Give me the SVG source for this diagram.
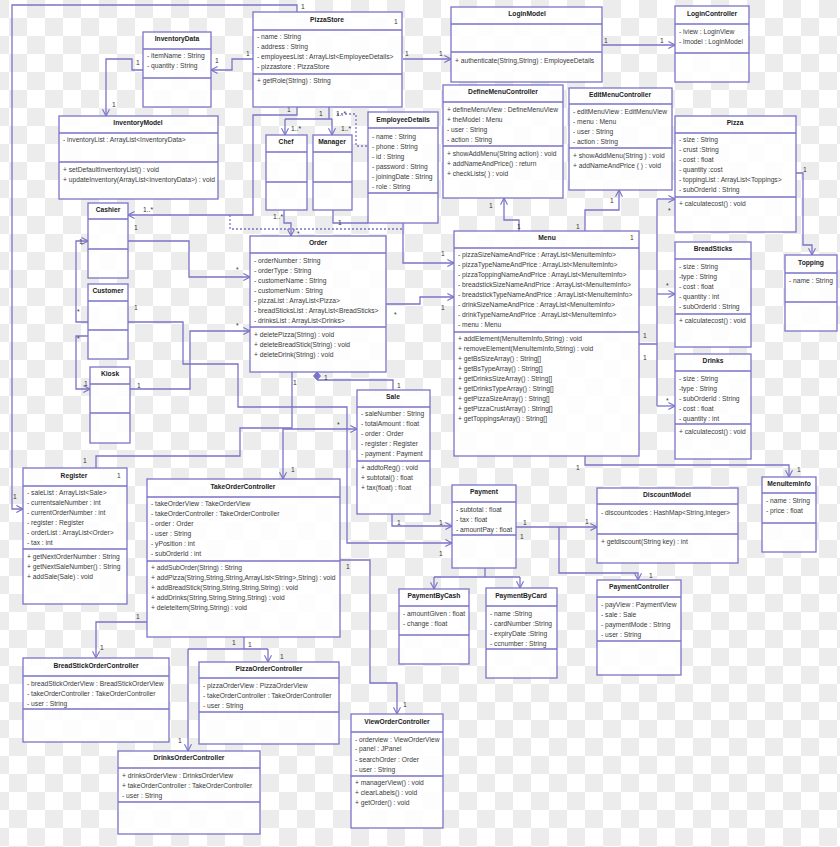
<svg xmlns="http://www.w3.org/2000/svg" width="840" height="847" viewBox="0 0 840 847">
<defs>
<pattern id="chk" x="9" y="0" width="36" height="36" patternUnits="userSpaceOnUse">
<rect width="36" height="36" fill="#ffffff"/>
<rect x="18" y="0" width="18" height="18" fill="#ececec"/>
<rect x="0" y="18" width="18" height="18" fill="#ececec"/>
</pattern>
<marker id="a" viewBox="0 0 10 10" refX="9.5" refY="5" markerWidth="7" markerHeight="8" orient="auto" markerUnits="userSpaceOnUse">
<path d="M0,0 L9.5,5 L0,10" fill="none" stroke="#7b73c7" stroke-width="1.6"/>
</marker>
<marker id="as" viewBox="0 0 10 10" refX="9.5" refY="5" markerWidth="7" markerHeight="8" orient="auto-start-reverse" markerUnits="userSpaceOnUse">
<path d="M0,0 L9.5,5 L0,10" fill="none" stroke="#7b73c7" stroke-width="1.6"/>
</marker>
</defs>
<style>
.box{fill:#fff;fill-opacity:.88;stroke:#7b73c7;stroke-width:1.3}
.sep{stroke:#7b73c7;stroke-width:1.3}
.t{font-family:"Liberation Sans",Arial,sans-serif;font-size:6.7px;fill:#3a3a3a}
.h{font-weight:bold;text-anchor:middle;fill:#222}
.c{fill:none;stroke:#7b73c7;stroke-width:1.3}
.d{stroke-dasharray:2,2}
.l{font-family:"Liberation Sans",Arial,sans-serif;font-size:6.7px;fill:#333}
</style>
<rect width="840" height="847" fill="url(#chk)"/>

<g id="connectors">
<path class="c" d="M297,12 V5 H12 V509 H23" marker-end="url(#a)"/>
<path class="c" d="M253,59 H232 V70 H211" marker-end="url(#a)"/>
<path class="c" d="M143,70 H132 V59 H106 V116" marker-end="url(#a)"/>
<path class="c" d="M403,59 H451" marker-end="url(#a)"/>
<path class="c" d="M602,45 H675" marker-end="url(#a)"/>
<path class="c" d="M297,107 V115 H253 V215 H128" marker-end="url(#a)"/>
<path class="c" d="M329,107 V119 M285,119 H332"/>
<path class="c" d="M285,119 V135" marker-end="url(#a)"/>
<path class="c" d="M332,119 V135" marker-end="url(#a)"/>
<path class="c d" d="M337,114 H356 V146 H368"/>
<path class="c d" d="M230,215 V229 H403"/>
<path class="c" d="M284,210 V223 H291 V236" marker-end="url(#a)"/>
<path class="c" d="M333,210 V223 H368"/>
<path class="c" d="M403,223 V263 H454" marker-end="url(#a)"/>
<path class="c" d="M128,241 H189 V277 H250" marker-end="url(#a)"/>
<path class="c" d="M130,389 H190 V331 H250" marker-end="url(#a)"/>
<path class="c" d="M88,322 H76 V241 H88" marker-end="url(#a)"/>
<path class="c" d="M88,336 H76 V389 H90" marker-end="url(#a)"/>
<path class="c" d="M128,322 H183 V364 H238 V407 H347 V543 H452" marker-end="url(#a)"/>
<path class="c" d="M386,304 H420 V297 H454" marker-end="url(#a)"/>
<path class="c" d="M519,231 V220 H504 V198" marker-end="url(#a)"/>
<path class="c" d="M585,231 V210 H619 V190" marker-end="url(#a)"/>
<path class="c" d="M639,344 H657 M657,199 V406"/>
<path class="c" d="M657,199 H675" marker-end="url(#a)"/>
<path class="c" d="M657,294 H675" marker-end="url(#a)"/>
<path class="c" d="M657,406 H675" marker-end="url(#a)"/>
<path class="c" d="M796,173 H803 V245 H812 V255" marker-end="url(#a)"/>
<path class="c" d="M585,456 V465 H789 V477" marker-end="url(#a)"/>
<path class="c" d="M317,380 H393 V390"/>
<path d="M317,372 L320.5,376 L317,380 L313.5,376 Z" fill="#7b73c7" stroke="#7b73c7" stroke-width="1"/>
<path class="c" d="M292,372 V428 H240 V456 H96 V468"/>
<path class="c" d="M283,479 V429 H357" marker-start="url(#as)" marker-end="url(#a)"/>
<path class="c" d="M392,514 V526 H452" marker-end="url(#a)"/>
<path class="c" d="M516,527 H597" marker-end="url(#a)"/>
<path class="c" d="M559,527 V573 H638 V580" marker-end="url(#a)"/>
<path class="c" d="M485,568 V577 M434,577 H520"/>
<path class="c" d="M434,577 V589" marker-end="url(#a)"/>
<path class="c" d="M520,577 V588" marker-end="url(#a)"/>
<path class="c" d="M340,560 H370 V683 H397 V714" marker-end="url(#a)"/>
<path class="c" d="M147,622 H96 V658" marker-end="url(#a)"/>
<path class="c" d="M244,637 V649 M188,649 H268"/>
<path class="c" d="M268,649 V662" marker-end="url(#a)"/>
<path class="c" d="M188,649 V751" marker-end="url(#a)"/>

<text class="l" x="301" y="9">1</text>
<text class="l" x="13" y="499">1</text>
<text class="l" x="246" y="56">1</text>
<text class="l" x="215" y="63">1</text>
<text class="l" x="136" y="65">1</text>
<text class="l" x="112" y="107">1</text>
<text class="l" x="405" y="56">1</text>
<text class="l" x="439" y="56">1</text>
<text class="l" x="604" y="43">1</text>
<text class="l" x="660" y="43">1</text>
<text class="l" x="287" y="112">1</text>
<text class="l" x="143" y="212">1..*</text>
<text class="l" x="319" y="116">1</text>
<text class="l" x="291" y="131">1..*</text>
<text class="l" x="341" y="131">1..*</text>
<text class="l" x="336" y="116">1..*</text>
<text class="l" x="273" y="219">1..*</text>
<text class="l" x="297" y="236">*</text>
<text class="l" x="338" y="225">1</text>
<text class="l" x="441" y="256">1</text>
<text class="l" x="134" y="230">1</text>
<text class="l" x="236" y="272">*</text>
<text class="l" x="137" y="388">1</text>
<text class="l" x="236" y="328">*</text>
<text class="l" x="77" y="314">*</text>
<text class="l" x="79" y="244">1</text>
<text class="l" x="77" y="341">*</text>
<text class="l" x="84" y="386">1</text>
<text class="l" x="134" y="310">1</text>
<text class="l" x="439" y="556">1</text>
<text class="l" x="394" y="317">*</text>
<text class="l" x="441" y="310">1</text>
<text class="l" x="489" y="208">1</text>
<text class="l" x="517" y="229">1</text>
<text class="l" x="610" y="203">1</text>
<text class="l" x="576" y="229">1</text>
<text class="l" x="668" y="213">*</text>
<text class="l" x="666" y="288">*</text>
<text class="l" x="666" y="403">*</text>
<text class="l" x="643" y="338">1</text>
<text class="l" x="643" y="360">1</text>
<text class="l" x="803" y="172">1</text>
<text class="l" x="576" y="470">1</text>
<text class="l" x="797" y="472">1</text>
<text class="l" x="324" y="380">1</text>
<text class="l" x="397" y="388">1</text>
<text class="l" x="293" y="385">1</text>
<text class="l" x="291" y="472">1</text>
<text class="l" x="83" y="463">1</text>
<text class="l" x="337" y="427">*</text>
<text class="l" x="397" y="525">1</text>
<text class="l" x="439" y="525">1</text>
<text class="l" x="523" y="525">1</text>
<text class="l" x="585" y="524">1</text>
<text class="l" x="520" y="539">1</text>
<text class="l" x="649" y="578">1</text>
<text class="l" x="346" y="569">1</text>
<text class="l" x="403" y="707">1</text>
<text class="l" x="136" y="619">1</text>
<text class="l" x="100" y="650">1</text>
<text class="l" x="232" y="645">1</text>
<text class="l" x="248" y="647">1</text>
<text class="l" x="280" y="659">1</text>
<text class="l" x="178" y="743">1</text>
</g>

<g id="InventoryData">
<rect class="box" x="143" y="32" width="68" height="75"/>
<path class="sep" d="M143,49 H211 M143,78 H211"/>
<text class="t h" x="177" y="41">InventoryData</text>
<text class="t" x="147" y="58">- itemName : String</text>
<text class="t" x="147" y="68">- quantity : String</text>
</g>

<g id="InventoryModel">
<rect class="box" x="59" y="116" width="159" height="83"/>
<path class="sep" d="M59,133 H218 M59,162 H218"/>
<text class="t h" x="138" y="125">InventoryModel</text>
<text class="t" x="63" y="141.5">- inventoryList : ArrayList&lt;InventoryData&gt;</text>
<text class="t" x="63" y="171.5">+ setDefaultInventoryList() : void</text>
<text class="t" x="63" y="181.5">+ updateInventory(ArrayList&lt;InventoryData&gt;) : void</text>
</g>

<g id="PizzaStore">
<rect class="box" x="253" y="12" width="149" height="95"/>
<path class="sep" d="M253,30 H402 M253,74 H402"/>
<text class="t h" x="327" y="21.5">PizzaStore</text>
<text class="t" x="394" y="24">1</text>
<text class="t" x="257" y="38.5">- name : String</text>
<text class="t" x="257" y="48.5">- address : String</text>
<text class="t" x="257" y="58.5">- employeesList : ArrayList&lt;EmployeeDetails&gt;</text>
<text class="t" x="257" y="68.5">- pizzastore : PizzaStore</text>
<text class="t" x="257" y="82.5">+ getRole(String) : String</text>
</g>

<g id="LoginModel">
<rect class="box" x="451" y="7" width="151" height="75"/>
<path class="sep" d="M451,24 H602 M451,52 H602"/>
<text class="t h" x="527" y="16">LoginModel</text>
<text class="t" x="455" y="62.5">+ authenticate(String,String) : EmployeeDetails</text>
</g>

<g id="LoginController">
<rect class="box" x="675" y="6" width="74" height="76"/>
<path class="sep" d="M675,24 H749 M675,53 H749"/>
<text class="t h" x="712" y="15.5">LoginController</text>
<text class="t" x="679" y="33.5">- lview : LoginView</text>
<text class="t" x="679" y="43.5">- lmodel : LoginModel</text>
</g>

<g id="DefineMenuController">
<rect class="box" x="443" y="85" width="120" height="113"/>
<path class="sep" d="M443,102 H563 M443,146 H563"/>
<text class="t h" x="503" y="93.5">DefineMenuController</text>
<text class="t" x="447" y="111.5">+ defineMenuView : DefineMenuView</text>
<text class="t" x="447" y="121.5">+ theModel : Menu</text>
<text class="t" x="447" y="131.5">- user : String</text>
<text class="t" x="447" y="141.5">- action : String</text>
<text class="t" x="447" y="155.5">+ showAddMenu(String action) : void</text>
<text class="t" x="447" y="165.5">+ addNameAndPrice() : return</text>
<text class="t" x="447" y="175.5">+ checkLists( ) : void</text>
</g>

<g id="EditMenuController">
<rect class="box" x="569" y="88" width="103" height="102"/>
<path class="sep" d="M569,104 H672 M569,148 H672"/>
<text class="t h" x="620" y="96.5">EditMenuController</text>
<text class="t" x="573" y="113.5">- editMenuView : EditMenuView</text>
<text class="t" x="573" y="123.5">- menu : Menu</text>
<text class="t" x="573" y="133.5">- user : String</text>
<text class="t" x="573" y="144">- action : String</text>
<text class="t" x="573" y="157.5">+ showAddMenu(String ) : void</text>
<text class="t" x="573" y="167.5">+ addNameAndPrice ( ) : void</text>
</g>

<g id="Pizza">
<rect class="box" x="675" y="116" width="121" height="116"/>
<path class="sep" d="M675,133 H796 M675,197 H796"/>
<text class="t h" x="735" y="124.5">Pizza</text>
<text class="t" x="679" y="141.5">- size : String</text>
<text class="t" x="679" y="151.5">- crust :String</text>
<text class="t" x="679" y="161.5">- cost : float</text>
<text class="t" x="679" y="172">- quantity :cost</text>
<text class="t" x="679" y="182">- toppingList : ArrayList&lt;Toppings&gt;</text>
<text class="t" x="679" y="192">- subOrderId : String</text>
<text class="t" x="679" y="205.5">+ calculatecost() : void</text>
</g>

<g id="Topping">
<rect class="box" x="785" y="255" width="52" height="76"/>
<path class="sep" d="M785,273 H837 M785,302 H837"/>
<text class="t h" x="811" y="264.5">Topping</text>
<text class="t" x="789" y="282.5">- name : String</text>
</g>

<g id="BreadSticks">
<rect class="box" x="675" y="242" width="76" height="105"/>
<path class="sep" d="M675,259 H751 M675,314 H751"/>
<text class="t h" x="713" y="250.5">BreadSticks</text>
<text class="t" x="679" y="268.5">- size : String</text>
<text class="t" x="679" y="278.5">-type : String</text>
<text class="t" x="679" y="288.5">- cost : float</text>
<text class="t" x="679" y="298.5">- quantity : int</text>
<text class="t" x="679" y="308.5">- subOrderId : String</text>
<text class="t" x="679" y="322.5">+ calculatecost() : void</text>
</g>

<g id="Drinks">
<rect class="box" x="675" y="354" width="76" height="105"/>
<path class="sep" d="M675,371 H751 M675,424 H751"/>
<text class="t h" x="713" y="362.5">Drinks</text>
<text class="t" x="679" y="380.5">- size : String</text>
<text class="t" x="679" y="390.5">-type  : String</text>
<text class="t" x="679" y="400.5">- subOrderId : String</text>
<text class="t" x="679" y="410.5">- cost : float</text>
<text class="t" x="679" y="420.5">- quantity : int</text>
<text class="t" x="679" y="433.5">+ calculatecost() : void</text>
</g>

<g id="Menu">
<rect class="box" x="454" y="231" width="185" height="225"/>
<path class="sep" d="M454,248 H639 M454,332 H639"/>
<text class="t h" x="547" y="239.5">Menu</text>
<text class="t" x="630" y="239.5">1</text>
<text class="t" x="458" y="256.5">- pizzaSizeNameAndPrice : ArrayList&lt;MenuItemInfo&gt;</text>
<text class="t" x="458" y="266.5">- pizzaTypeNameAndPrice : ArrayList&lt;MenuItemInfo&gt;</text>
<text class="t" x="458" y="276.5">- pizzaToppingNameAndPrice : ArrayList&lt;MenuItemInfo&gt;</text>
<text class="t" x="458" y="286.5">- breadstickSizeNameAndPrice : ArrayList&lt;MenuItemInfo&gt;</text>
<text class="t" x="458" y="296.5">- breadstickTypeNameAndPrice : ArrayList&lt;MenuItemInfo&gt;</text>
<text class="t" x="458" y="306.5">- drinkSizeNameAndPrice : ArrayList&lt;MenuItemInfo&gt;</text>
<text class="t" x="458" y="317">- drinkTypeNameAndPrice : ArrayList&lt;MenuItemInfo&gt;</text>
<text class="t" x="458" y="327">- menu : Menu</text>
<text class="t" x="458" y="340.5">+ addElement(MenuItemInfo,String) : void</text>
<text class="t" x="458" y="350.5">+ removeElement(MenuItemInfo,String) : void</text>
<text class="t" x="458" y="360.5">+ getBsSizeArray() : String[]</text>
<text class="t" x="458" y="370.5">+ getBsTypeArray() : String[]</text>
<text class="t" x="458" y="380.5">+ getDrinksSizeArray() : String[]</text>
<text class="t" x="458" y="390.5">+ getDrinksTypeArray() : String[]</text>
<text class="t" x="458" y="400.5">+ getPizzaSizeArray() : String[]</text>
<text class="t" x="458" y="410.5">+ getPizzaCrustArray() : String[]</text>
<text class="t" x="458" y="420.5">+ getToppingsArray() : String[]</text>
</g>

<g id="MenuItemInfo">
<rect class="box" x="762" y="477" width="54" height="75"/>
<path class="sep" d="M762,493 H816 M762,523 H816"/>
<text class="t h" x="789" y="485.5">MenuItemInfo</text>
<text class="t" x="766" y="502.5">- name : String</text>
<text class="t" x="766" y="512.5">- price : float</text>
</g>

<g id="DiscountModel">
<rect class="box" x="597" y="488" width="141" height="75"/>
<path class="sep" d="M597,504 H738 M597,534 H738"/>
<text class="t h" x="667" y="496.5">DiscountModel</text>
<text class="t" x="601" y="514.5">- discountcodes : HashMap&lt;String,Integer&gt;</text>
<text class="t" x="601" y="543.5">+ getdiscount(String key) : int</text>
</g>

<g id="PaymentController">
<rect class="box" x="597" y="580" width="84" height="95"/>
<path class="sep" d="M597,597 H681 M597,641 H681"/>
<text class="t h" x="639" y="588.5">PaymentController</text>
<text class="t" x="601" y="606.5">- payView : PaymentView</text>
<text class="t" x="601" y="616.5">- sale : Sale</text>
<text class="t" x="601" y="626.5">- paymentMode : String</text>
<text class="t" x="601" y="636.5">- user : String</text>
</g>

<g id="Payment">
<rect class="box" x="452" y="485" width="64" height="83"/>
<path class="sep" d="M452,502 H516 M452,535 H516"/>
<text class="t h" x="484" y="493.5">Payment</text>
<text class="t" x="456" y="511.5">- subtotal : float</text>
<text class="t" x="456" y="521.5">- tax : float</text>
<text class="t" x="456" y="531.5">- amountPay : float</text>
</g>

<g id="PaymentByCash">
<rect class="box" x="399" y="589" width="70" height="75"/>
<path class="sep" d="M399,606 H469 M399,635 H469"/>
<text class="t h" x="434" y="597.5">PaymentByCash</text>
<text class="t" x="403" y="615.5">- amountGiven : float</text>
<text class="t" x="403" y="625.5">- change : float</text>
</g>

<g id="PaymentByCard">
<rect class="box" x="486" y="588" width="71" height="90"/>
<path class="sep" d="M486,606 H557 M486,649 H557"/>
<text class="t h" x="521" y="597.5">PaymentByCard</text>
<text class="t" x="490" y="615.5">- name :String</text>
<text class="t" x="490" y="625.5">- cardNumber :String</text>
<text class="t" x="490" y="635.5">- expiryDate :String</text>
<text class="t" x="490" y="645.5">- ccnumber : String</text>
</g>

<g id="Sale">
<rect class="box" x="357" y="390" width="73" height="124"/>
<path class="sep" d="M357,407 H430 M357,461 H430"/>
<text class="t h" x="393" y="398.5">Sale</text>
<text class="t" x="361" y="415.5">- saleNumber : String</text>
<text class="t" x="361" y="425.5">- totalAmount : float</text>
<text class="t" x="361" y="435.5">- order : Order</text>
<text class="t" x="361" y="445.5">- register : Register</text>
<text class="t" x="361" y="456">- payment : Payment</text>
<text class="t" x="361" y="469.5">+ addtoReg() : void</text>
<text class="t" x="361" y="480">+ subtotal() : float</text>
<text class="t" x="361" y="490">+ tax(float) : float</text>
</g>

<g id="Order">
<rect class="box" x="250" y="236" width="136" height="136"/>
<path class="sep" d="M250,253 H386 M250,327 H386"/>
<text class="t h" x="318" y="244.5">Order</text>
<text class="t" x="254" y="262.5">- orderNumber : String</text>
<text class="t" x="254" y="272.5">- orderType : String</text>
<text class="t" x="254" y="282.5">- customerName : String</text>
<text class="t" x="254" y="292.5">- customerNum : String</text>
<text class="t" x="254" y="302.5">- pizzaList : ArrayList&lt;Pizza&gt;</text>
<text class="t" x="254" y="312.5">- breadSticksList : ArrayList&lt;BreadSticks&gt;</text>
<text class="t" x="254" y="322.5">- drinksList : ArrayList&lt;Drinks&gt;</text>
<text class="t" x="254" y="336.5">+ deletePizza(String) : void</text>
<text class="t" x="254" y="346.5">+ deleteBreadStick(String) : void</text>
<text class="t" x="254" y="356.5">+ deleteDrink(String) : void</text>
</g>

<g id="Cashier">
<rect class="box" x="88" y="203" width="40" height="75"/>
<path class="sep" d="M88,219 H128 M88,249 H128"/>
<text class="t h" x="108" y="211.5">Cashier</text>
</g>

<g id="Customer">
<rect class="box" x="88" y="284" width="40" height="75"/>
<path class="sep" d="M88,301 H128 M88,330 H128"/>
<text class="t h" x="108" y="292.5">Customer</text>
</g>

<g id="Kiosk">
<rect class="box" x="90" y="367" width="40" height="76"/>
<path class="sep" d="M90,384 H130 M90,413 H130"/>
<text class="t h" x="110" y="375.5">Kiosk</text>
</g>

<g id="Chef">
<rect class="box" x="266" y="135" width="41" height="75"/>
<path class="sep" d="M266,152 H307 M266,182 H307"/>
<text class="t h" x="286" y="143.5">Chef</text>
</g>

<g id="Manager">
<rect class="box" x="313" y="135" width="39" height="75"/>
<path class="sep" d="M313,152 H352 M313,182 H352"/>
<text class="t h" x="332" y="143.5">Manager</text>
</g>

<g id="EmployeeDetails">
<rect class="box" x="368" y="112" width="70" height="111"/>
<path class="sep" d="M368,128 H438 M368,193 H438"/>
<text class="t h" x="403" y="121.5">EmployeeDetails</text>
<text class="t" x="372" y="138.5">- name : String</text>
<text class="t" x="372" y="148.5">- phone : String</text>
<text class="t" x="372" y="158.5">- id : String</text>
<text class="t" x="372" y="169">- password : String</text>
<text class="t" x="372" y="179">- joiningDate : String</text>
<text class="t" x="372" y="189">- role : String</text>
</g>

<g id="Register">
<rect class="box" x="23" y="468" width="104" height="136"/>
<path class="sep" d="M23,486 H127 M23,549 H127"/>
<text class="t h" x="74" y="477.5">Register</text>
<text class="t" x="117" y="477.5">1</text>
<text class="t" x="27" y="494.5">- saleList : ArrayList&lt;Sale&gt;</text>
<text class="t" x="27" y="504.5">- currentsaleNumber : int</text>
<text class="t" x="27" y="514.5">- currentOrderNumber : int</text>
<text class="t" x="27" y="524.5">- register : Register</text>
<text class="t" x="27" y="534.5">- orderList : ArrayList&lt;Order&gt;</text>
<text class="t" x="27" y="544.5">- tax : int</text>
<text class="t" x="27" y="558.5">+ getNextOrderNumber : String</text>
<text class="t" x="27" y="568.5">+ getNextSaleNumber() : String</text>
<text class="t" x="27" y="578.5">+ addSale(Sale) : void</text>
</g>

<g id="TakeOrderController">
<rect class="box" x="147" y="479" width="193" height="158"/>
<path class="sep" d="M147,497 H340 M147,561 H340"/>
<text class="t h" x="243" y="488.5">TakeOrderController</text>
<text class="t" x="151" y="505.5">- takeOrderView : TakeOrderView</text>
<text class="t" x="151" y="515.5">- takeOrderController : TakeOrderController</text>
<text class="t" x="151" y="525.5">- order : Order</text>
<text class="t" x="151" y="535.5">- user : String</text>
<text class="t" x="151" y="545.5">- yPosition : int</text>
<text class="t" x="151" y="555.5">- subOrderId : int</text>
<text class="t" x="151" y="569.5">+ addSubOrder(String) : String</text>
<text class="t" x="151" y="579.5">+ addPizza(String,String,String,ArrayList&lt;String&gt;,String) : void</text>
<text class="t" x="151" y="589.5">+ addBreadStick(String,String,String,String) : void</text>
<text class="t" x="151" y="599.5">+ addDrinks(String,String,String,String) : void</text>
<text class="t" x="151" y="609.5">+ deleteItem(String,String) : void</text>
</g>

<g id="BreadStickOrderController">
<rect class="box" x="23" y="658" width="146" height="84"/>
<path class="sep" d="M23,676 H169 M23,709 H169"/>
<text class="t h" x="96" y="667.5">BreadStickOrderController</text>
<text class="t" x="27" y="685.5">- breadStickOrderView : BreadStickOrderView</text>
<text class="t" x="27" y="695.5">- takeOrderController : TakeOrderController</text>
<text class="t" x="27" y="705.5">- user : String</text>
</g>

<g id="PizzaOrderController">
<rect class="box" x="199" y="662" width="140" height="82"/>
<path class="sep" d="M199,678 H339 M199,712 H339"/>
<text class="t h" x="269" y="670.5">PizzaOrderController</text>
<text class="t" x="203" y="687.5">- pizzaOrderView : PizzaOrderView</text>
<text class="t" x="203" y="697.5">- takeOrderController : TakeOrderController</text>
<text class="t" x="203" y="707.5">- user : String</text>
</g>

<g id="DrinksOrderController">
<rect class="box" x="118" y="751" width="142" height="83"/>
<path class="sep" d="M118,768 H260 M118,802 H260"/>
<text class="t h" x="189" y="759.5">DrinksOrderController</text>
<text class="t" x="122" y="777.5">+ drinksOrderView : DrinksOrderView</text>
<text class="t" x="122" y="787.5">+ takeOrderController : TakeOrderController</text>
<text class="t" x="122" y="797.5">- user : String</text>
</g>

<g id="ViewOrderController">
<rect class="box" x="351" y="714" width="92" height="114"/>
<path class="sep" d="M351,732 H443 M351,776 H443"/>
<text class="t h" x="397" y="723.5">ViewOrderController</text>
<text class="t" x="355" y="741.5">- orderview : ViewOrderView</text>
<text class="t" x="355" y="751">- panel : JPanel</text>
<text class="t" x="355" y="761.5">- searchOrder : Order</text>
<text class="t" x="355" y="771.5">- user : String</text>
<text class="t" x="355" y="784.5">+ managerView() : void</text>
<text class="t" x="355" y="794.5">+ clearLabels() : void</text>
<text class="t" x="355" y="804.5">+ getOrder() : void</text>
</g>
</svg>
